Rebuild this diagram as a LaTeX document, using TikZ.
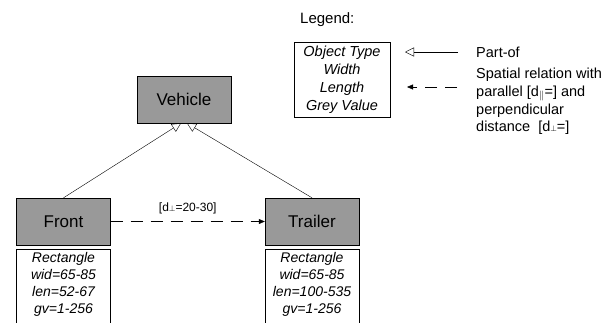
\documentclass[tikz,border=0pt]{standalone}
\usepackage{fontspec}
\setmainfont{Liberation Sans}
\usetikzlibrary{positioning}
\usetikzlibrary{arrows.meta}
\definecolor{boxgrey}{RGB}{153,153,153}
\tikzset{
        boxnode/.style={align=center,inner sep=0pt},
        % Object nodes
        node_object/.style={boxnode, rectangle, draw=black, fill=boxgrey, minimum width=94pt, minimum height=47pt, font=\fontsize{17}{20}\selectfont},
        % Attribute nodes
        node_attr/.style={boxnode, rectangle, draw=black, fill=white, text width=94pt, inner ysep=2.5pt, font=\fontsize{14}{17.3}\selectfont\itshape},
        % Legend text
        node_text/.style={inner sep=0pt, align=left, font=\fontsize{14.5}{17.7}\selectfont},
        % Arrows
        part_of/.style={-{Triangle[open, length=9pt, width=9pt]}},
        spatial/.style={dash pattern=on 12pt off 8pt, -{Triangle[length=6pt, width=5pt]}}
}
\begin{document}
\begin{tikzpicture}[x=1pt, y=-1pt]
            \clip (0,0) rectangle (612,322);
            % objects
            \node[node_object] (vehicle) at (184,99.5) {Vehicle};
            \node[node_object] (front) at (63.5,221.5) {Front};
            \node[node_object] (trailer) at (312,221.5) {Trailer};
            \node[node_attr, below=4pt of front] (front_attr)
                {Rectangle\\ wid=65-85\\ len=52-67\\ gv=1-256\rule[-20pt]{0pt}{20pt}};
            \node[node_attr, below=4pt of trailer] (trailer_attr)
                {Rectangle\\ wid=65-85\\ len=100-535\\ gv=1-256\rule[-20pt]{0pt}{20pt}};
            % relations
            \draw[part_of] (front.north) -- ([xshift=-3pt]vehicle.south);
            \draw[part_of] (trailer.north) -- ([xshift=3pt]vehicle.south);
            \draw[spatial] (front.east) -- (trailer.west)
                node[midway, above=7pt, inner sep=0pt, font=\fontsize{12}{14}\selectfont] (dist) {[d{\footnotesize$\perp$}=20-30]};
            % legend
            \node[node_text, anchor=west, font=\fontsize{15}{18}\selectfont] (legend) at (300,20) {Legend:};
            \node[boxnode, rectangle, draw=black, minimum width=96pt, minimum height=75pt,
                  font=\fontsize{14.5}{18}\selectfont\itshape] (legend_box) at (342,79.5)
                {Object Type\\ Width\\ Length\\ Grey Value};
            \node[node_text, anchor=west] (partof) at (476,52) {Part-of};
            \node[node_text, anchor=north west] (spatial_txt) at (476,68)
                {Spatial relation with\\ parallel [d$_{\|}$=] and\\ perpendicular\\ distance \ [d{\footnotesize$\perp$}=]};
            \coordinate (partof_end) at (405,52);
            \coordinate (spatial_end) at (407,87);
            \draw[part_of] ([xshift=-18pt]partof.west) -- (partof_end);
            \draw[spatial] ([xshift=-19pt]spatial_txt.west |- spatial_end) -- (spatial_end);
\end{tikzpicture}
\end{document}
